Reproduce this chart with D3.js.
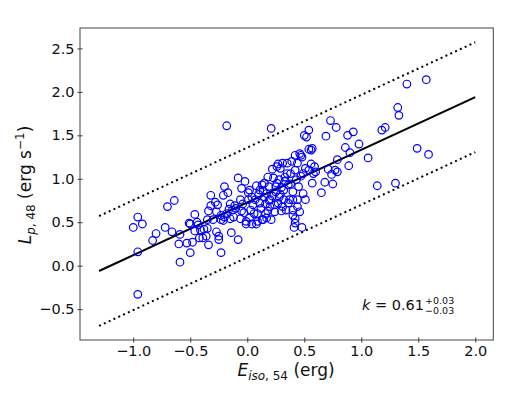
<!DOCTYPE html>
<html lang="en">
<head>
  <meta charset="UTF-8">
  <script src="https://d3js.org/d3.v7.min.js"></script>
  <title>Lp - Eiso</title>
  <style>
    body { margin: 0; background: #fff; }
    text { font-family: "DejaVu Sans", sans-serif; fill: #111; }
  </style>
</head>
<body>
  <svg width="513" height="397"></svg>

  <script>
    // data: [log Eiso,54 , log Lp,48]
    var bursts = [
      [-1.00,0.44],[-0.96,0.56],[-0.92,0.48],[-0.96,0.16],[-0.96,-0.33],[-0.83,0.29],[-0.80,0.37],
      [-0.72,0.44],[-0.70,0.68],[-0.66,0.39],[-0.64,0.75],[-0.60,0.25],[-0.59,0.36],[-0.59,0.04],
      [-0.53,0.26],[-0.50,0.15],[-0.48,0.27],
      [-0.46,0.59],[-0.51,0.49],[-0.50,0.48],[-0.44,0.50],[-0.46,0.40],[-0.41,0.41],[-0.42,0.32],
      [-0.39,0.32],[-0.36,0.34],[-0.35,0.43],[-0.35,0.53],[-0.34,0.63],[-0.32,0.81],[-0.32,0.69],
      [-0.28,0.73],[-0.30,0.53],[-0.27,0.39],[-0.25,0.34],[-0.25,0.30],[-0.34,0.24],[-0.26,0.70],
      [-0.23,0.58],[-0.23,0.53],[-0.23,0.15],[-0.21,0.81],[-0.20,0.91],[-0.18,0.60],[-0.17,0.84],
      [-0.16,0.65],[-0.15,0.54],[-0.15,0.71],[-0.14,0.38],[-0.13,0.64],[-0.12,0.56],[-0.08,1.01],
      [-0.08,0.30],[-0.06,0.54],[-0.06,0.76],[-0.05,0.89],[-0.04,0.71],[-0.03,0.61],[-0.02,0.97],
      [-0.01,0.51],[-0.01,0.48],[-0.18,1.61],[-0.20,0.56],[-0.10,0.66],[-0.27,0.62],[-0.43,0.47],
      [-0.38,0.42],[-0.21,0.52],[-0.11,0.69],[-0.05,0.63],
      [0.01,0.84],[0.02,0.87],[0.01,0.76],[0.03,0.64],[0.04,0.48],[0.04,0.79],[0.06,0.60],[0.08,0.48],
      [0.07,0.76],[0.08,0.92],[0.09,0.60],[0.11,0.87],[0.11,0.72],[0.13,0.93],[0.13,0.53],[0.14,0.53],
      [0.15,0.79],[0.16,0.71],[0.16,0.60],[0.17,0.83],[0.17,0.55],[0.18,1.02],[0.19,0.91],[0.20,0.68],
      [0.20,0.76],[0.21,1.58],[0.21,0.53],[0.22,1.11],[0.23,1.01],[0.25,0.85],[0.25,0.91],[0.26,1.14],
      [0.27,1.17],[0.27,0.72],[0.28,0.79],[0.28,0.99],[0.29,1.12],[0.30,0.63],[0.31,1.18],[0.32,0.87],
      [0.32,0.76],[0.33,0.97],[0.34,0.64],[0.35,1.06],[0.35,1.18],[0.36,0.93],[0.36,0.72],[0.37,0.76],
      [0.38,1.06],[0.39,1.20],[0.40,0.64],[0.40,0.85],[0.40,0.76],[0.42,1.10],[0.42,1.27],[0.43,0.99],
      [0.40,0.58],[0.42,0.54],[0.42,0.49],[0.41,0.44],[0.44,0.68],[0.44,0.76],[0.45,0.91],[0.46,0.62],
      [0.46,1.29],[0.47,1.27],[0.48,1.25],[0.48,0.44],[0.49,1.06],[0.49,0.83],[0.50,1.50],[0.51,0.76],
      [0.51,1.12],[0.52,1.48],[0.54,1.10],[0.54,1.56],[0.54,1.34],[0.56,1.33],[0.57,1.35],[0.56,1.17],
      [0.57,0.95],[0.58,1.06],[0.59,1.14],[0.60,1.08],
      [0.05,0.70],[0.10,0.82],[0.12,0.66],[0.14,0.86],[0.18,0.63],[0.22,0.80],[0.24,0.70],[0.26,0.95],
      [0.30,0.90],[0.33,1.02],[0.15,0.95],[0.19,0.75],[0.02,0.55],[0.09,0.51],[0.24,0.62],[0.31,0.68],
      [0.38,0.94],[0.44,1.18],[0.47,1.03],[0.29,0.82],
      [0.65,0.84],[0.68,0.96],[0.69,1.49],[0.71,1.11],[0.73,1.67],[0.74,1.05],[0.75,0.94],[0.77,1.10],
      [0.78,1.59],[0.79,1.08],[0.79,1.22],[0.86,1.36],[0.88,1.50],[0.89,1.15],[0.90,1.30],[0.93,1.54],
      [0.98,1.40],[1.06,1.24],[1.14,0.92],[1.18,1.56],[1.21,1.59],[1.30,0.95],[1.32,1.82],[1.33,1.73],
      [1.40,2.09],[1.49,1.35],[1.57,2.14],[1.59,1.28]
    ];

    // fit: Lp = k * Eiso + b, dotted = +/- band
    var fitK = 0.606, fitB = 0.727, band = 0.632;
    var fitRange = [-1.3, 2.0];

    var xTicks = [-1.0, -0.5, 0.0, 0.5, 1.0, 1.5, 2.0];
    var yTicks = [-0.5, 0.0, 0.5, 1.0, 1.5, 2.0, 2.5];

    var svg = d3.select("svg");
    var marge = { left: 80, right: 493.3, top: 28, bottom: 340 };

    var x = d3.scaleLinear().domain([-1.467, 2.158]).range([marge.left, marge.right]);
    var y = d3.scaleLinear().domain([-0.855, 2.735]).range([marge.bottom, marge.top]);

    // fit lines
    var line = d3.line()
      .x(function(d){ return x(d[0]) })
      .y(function(d){ return y(d[1]) });
    function fitPts(off) {
      return fitRange.map(function(v){ return [v, fitK * v + fitB + off] });
    }
    svg.append("path").attr("d", line(fitPts(0)))
      .attr("stroke", "#000").attr("stroke-width", 2).attr("fill", "none");
    [band, -band].forEach(function(off){
      svg.append("path").attr("d", line(fitPts(off)))
        .attr("stroke", "#000").attr("stroke-width", 2).attr("fill", "none")
        .attr("stroke-dasharray", "2,3.3");
    });

    // points
    svg.append("g").selectAll("circle")
      .data(bursts)
      .enter()
      .append("circle")
      .attr("cx", function(d){ return x(d[0]) })
      .attr("cy", function(d){ return y(d[1]) })
      .attr("r", 3.8)
      .attr("fill", "none")
      .attr("stroke", "#0000ff")
      .attr("stroke-width", 1.2);

    // axes
    var gx = svg.append("g")
      .attr("transform", "translate(0," + marge.bottom + ")")
      .call(d3.axisBottom(x).tickValues(xTicks).tickFormat(d3.format(".1f"))
        .tickSizeInner(2.5).tickSizeOuter(0).tickPadding(3));
    gx.selectAll(".tick line").attr("y1", -2.5).attr("stroke", "#333");
    var gy = svg.append("g")
      .attr("transform", "translate(" + marge.left + ",0)")
      .call(d3.axisLeft(y).tickValues(yTicks).tickFormat(d3.format(".1f"))
        .tickSizeInner(2.5).tickSizeOuter(0).tickPadding(3));
    gy.selectAll(".tick line").attr("x1", 2.5).attr("stroke", "#333");
    [gx, gy].forEach(function(g){
      g.select(".domain").remove();
      g.selectAll("text").style("font-size", "14.5px").attr("fill", "#111");
    });

    // frame
    svg.append("rect")
      .attr("x", marge.left).attr("y", marge.top)
      .attr("width", marge.right - marge.left).attr("height", marge.bottom - marge.top)
      .attr("fill", "none").attr("stroke", "#444").attr("stroke-width", 1);

    // axis labels
    var xl = svg.append("text")
      .attr("x", 286).attr("y", 376)
      .attr("text-anchor", "middle").style("font-size", "17px");
    xl.append("tspan").style("font-style", "italic").text("E");
    xl.append("tspan").attr("dy", 4).style("font-size", "12px").style("font-style", "italic").text("iso");
    xl.append("tspan").style("font-size", "12px").text(", 54");
    xl.append("tspan").attr("dy", -4).text(" (erg)");

    var yl = svg.append("text")
      .attr("transform", "translate(31,185) rotate(-90)")
      .attr("text-anchor", "middle").style("font-size", "17px");
    yl.append("tspan").style("font-style", "italic").text("L");
    yl.append("tspan").attr("dy", 4).style("font-size", "12px").style("font-style", "italic").text("p");
    yl.append("tspan").style("font-size", "12px").text(", 48");
    yl.append("tspan").attr("dy", -4).text(" (erg s");
    yl.append("tspan").attr("dy", -7).style("font-size", "12px").text("\u22121");
    yl.append("tspan").attr("dy", 7).text(")");

    // slope annotation
    var ann = svg.append("text")
      .attr("x", 362).attr("y", 309.5).style("font-size", "14.5px");
    ann.append("tspan").style("font-style", "italic").text("k");
    ann.append("tspan").text(" = 0.61");
    var annW = ann.node().getComputedTextLength();
    svg.append("text").attr("x", 362 + annW + 1).attr("y", 303.5)
      .style("font-size", "9.5px").text("+0.03");
    svg.append("text").attr("x", 362 + annW + 1).attr("y", 314)
      .style("font-size", "9.5px").text("\u22120.03");
  </script>
</body>
</html>
